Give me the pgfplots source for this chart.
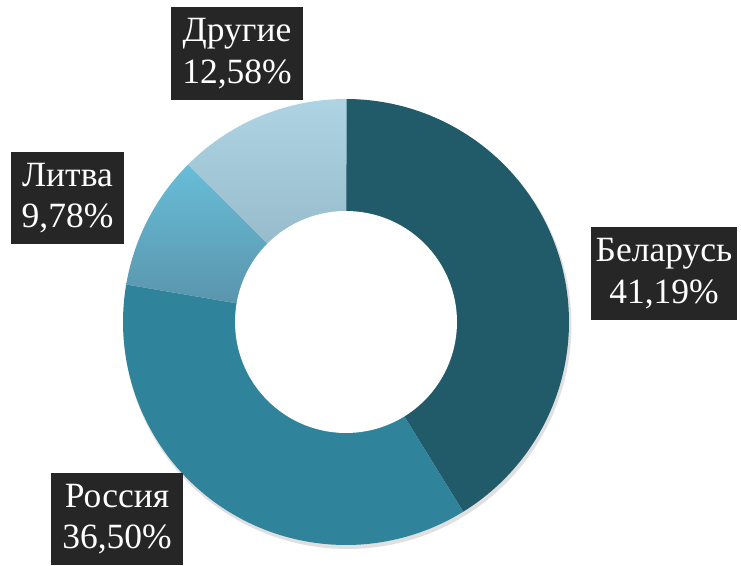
\documentclass[border=0pt]{standalone}
\usepackage{pgfplots}
\usepackage{pgfplotstable}
\pgfplotsset{compat=1.18}
\usepackage{fontspec}
\setmainfont{Liberation Serif}
\definecolor{cBel}{HTML}{215A69}
\definecolor{cRus}{HTML}{2F849C}
\definecolor{cLitT}{HTML}{68BDD8}
\definecolor{cLitB}{HTML}{5890A6}
\definecolor{cOthT}{HTML}{AED4E4}
\definecolor{cOthB}{HTML}{8BAEBD}
\definecolor{boxc}{HTML}{262626}
\pgfplotstableread{
name value
Belarus 41.19
Russia 36.50
Lithuania 9.78
Other 12.58
}\shares
\pgfplotstablegetelem{0}{value}\of\shares \let\vA\pgfplotsretval
\pgfplotstablegetelem{1}{value}\of\shares \let\vB\pgfplotsretval
\pgfplotstablegetelem{2}{value}\of\shares \let\vC\pgfplotsretval
\pgfplotstablegetelem{3}{value}\of\shares \let\vD\pgfplotsretval
\pgfmathsetmacro\aO{90}
\pgfmathsetmacro\aA{\aO-3.6*\vA}
\pgfmathsetmacro\aB{\aA-3.6*\vB}
\pgfmathsetmacro\aC{\aB-3.6*\vC}
\pgfmathsetmacro\aD{\aC-3.6*\vD}
\def\cx{346}\def\cy{243}\def\R{223}\def\r{111}
\begin{document}
\begin{tikzpicture}
\begin{axis}[x=1pt,y=1pt,xmin=0,xmax=741,ymin=0,ymax=565,hide axis,clip=false]
\path (axis cs:0,0) rectangle (axis cs:741,565);
% shadow
\addplot[fill=black!12,draw=none,domain=0:360,samples=120] ({\cx+1.5+(\R+1)*cos(x)},{\cy-3+(\R+1)*sin(x)}) -- cycle;
% slices
\addplot[fill=cBel,draw=none,domain=\aA:\aO,samples=100] ({\cx+\R*cos(x)},{\cy+\R*sin(x)}) -- (axis cs:\cx,\cy) -- cycle;
\addplot[fill=cRus,draw=none,domain=\aB:\aA,samples=100] ({\cx+\R*cos(x)},{\cy+\R*sin(x)}) -- (axis cs:\cx,\cy) -- cycle;
\addplot[top color=cLitT,bottom color=cLitB,draw=none,domain=\aC:\aB,samples=40] ({\cx+\R*cos(x)},{\cy+\R*sin(x)}) -- (axis cs:\cx,\cy) -- cycle;
\addplot[top color=cOthT,bottom color=cOthB,draw=none,domain=\aD:\aC,samples=40] ({\cx+\R*cos(x)},{\cy+\R*sin(x)}) -- (axis cs:\cx,\cy) -- cycle;
% hole
\addplot[fill=white,draw=none,domain=0:360,samples=120] ({\cx+\r*cos(x)},{\cy+\r*sin(x)}) -- cycle;
% labels
\tikzset{lbl/.style={fill=boxc,text=white,align=center,inner xsep=11pt,inner ysep=11pt,font=\rmfamily\fontsize{35.5}{41.5}\selectfont}}
\node[lbl] at (axis cs:237,511.5) {Другие\\12,58\%};
\node[lbl] at (axis cs:67.5,367) {Литва\\9,78\%};
\node[lbl,inner xsep=5pt] at (axis cs:664,291.5) {Беларусь\\41,19\%};
\node[lbl] at (axis cs:117,46) {Россия\\36,50\%};
\end{axis}
\end{tikzpicture}
\end{document}
